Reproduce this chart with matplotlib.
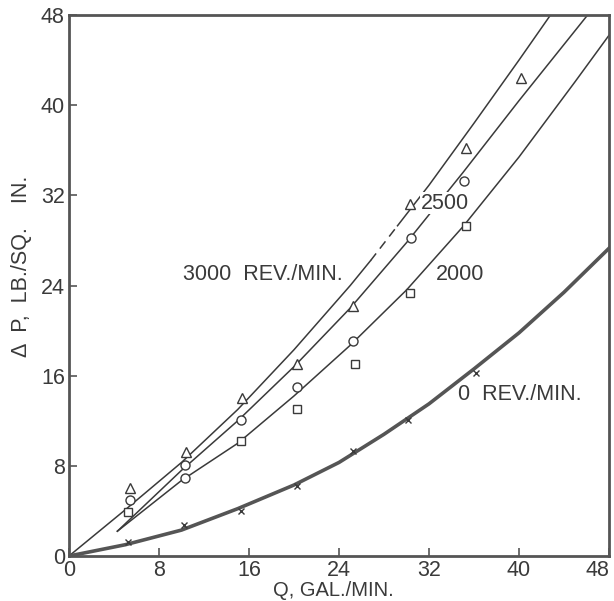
import matplotlib
matplotlib.use("Agg")
import matplotlib.pyplot as plt

# ---- data ----
# smooth curves (lines)
q_3000 = [0, 5, 10, 15, 20, 25, 26.8, 29.2, 32, 36, 40, 42.8]
p_3000 = [0, 4.1, 8.3, 13.0, 18.3, 24.0, 26.2, 29.3, 32.9, 38.4, 44.0, 48]

q_2500 = [4.3, 10, 15, 20, 25, 30, 35, 40, 46.1]
p_2500 = [2.2, 7.6, 12.0, 16.8, 22.0, 27.8, 34.0, 40.4, 48]

q_2000 = [4.3, 10, 15, 20, 25, 30, 35, 40, 45, 48]
p_2000 = [2.2, 6.7, 10.0, 14.2, 18.7, 23.6, 29.2, 35.4, 42.1, 46.2]

q_0 = [0, 5, 10, 15, 20, 24, 28, 32, 36, 40, 44, 48]
p_0 = [0, 1.0, 2.3, 4.2, 6.3, 8.3, 10.8, 13.5, 16.6, 19.8, 23.4, 27.3]

# measured points
tri_q = [5.4, 10.4, 15.4, 20.3, 25.2, 30.3, 35.3, 40.2]
tri_p = [6.0, 9.2, 14.0, 17.0, 22.2, 31.2, 36.2, 42.4]

circ_q = [5.4, 10.3, 10.3, 15.3, 20.3, 25.2, 30.4, 35.1]
circ_p = [5.0, 8.1, 6.9, 12.1, 15.0, 19.05, 28.2, 33.3]

sq_q = [5.2, 15.3, 20.3, 25.4, 30.3, 35.3]
sq_p = [3.9, 10.2, 13.0, 17.0, 23.35, 29.3]

x_q = [5.2, 10.25, 15.3, 20.3, 25.2, 30.1, 36.2]
x_p = [1.2, 2.75, 3.95, 6.2, 9.3, 12.1, 16.2]

ticks = [0, 8, 16, 24, 32, 40, 48]

# ---- drawing ----
plt.rcParams['font.family'] = ['Liberation Sans', 'DejaVu Sans']
ink = '#3a3a3a'
fig = plt.figure(figsize=(6.14, 6.01), dpi=100)
ax = fig.add_axes([69/614, 45/601, 540/614, 541/601])

lw = 1.1
# 3000 curve with a broken (dashed) stretch
ax.plot(q_3000[:7], p_3000[:7], color=ink, lw=lw, zorder=2)
ax.plot(q_3000[6:8], p_3000[6:8], color=ink, lw=lw, ls=(0, (6, 4)), zorder=2)
ax.plot(q_3000[7:], p_3000[7:], color=ink, lw=lw, zorder=2)
ax.plot(q_2500, p_2500, color=ink, lw=lw, zorder=2)
ax.plot(q_2000, p_2000, color=ink, lw=lw, zorder=2)
ax.plot(q_0, p_0, color='#555555', lw=2.6, zorder=2)

mk = dict(ls='none', mfc='white', mec=ink, mew=1.0, zorder=3)
ax.plot(tri_q, tri_p, marker='^', ms=7, **mk)
ax.plot(circ_q, circ_p, marker='o', ms=6.5, **mk)
ax.plot(sq_q, sq_p, marker='s', ms=5.5, **mk)
ax.plot(x_q, x_p, ls='none', marker='x', ms=5, mec=ink, mew=1.0, zorder=3)

fs = 15.5
ax.text(10.1, 25.0, "3000  REV./MIN.", fontsize=fs, color=ink, ha='left', va='center')
ax.text(31.3, 31.3, "2500", fontsize=fs, color=ink, ha='left', va='center',
        bbox=dict(facecolor='white', edgecolor='none', pad=0.5), zorder=4)
ax.text(32.6, 25.0, "2000", fontsize=fs, color=ink, ha='left', va='center')
ax.text(34.6, 14.3, "0  REV./MIN.", fontsize=fs, color=ink, ha='left', va='center')

ax.set_xlim(0, 48)
ax.set_ylim(0, 48)
ax.set_xticks(ticks)
ax.set_yticks(ticks)
ax.tick_params(direction='in', length=6, width=1.2, colors='#555555',
               labelcolor=ink, labelsize=15.5, pad=3)
ax.get_xticklabels()[-1].set_horizontalalignment('right')
for s in ax.spines.values():
    s.set_color('#555555')
    s.set_linewidth(2.0)

ax.set_xlabel("Q, GAL./MIN.", fontsize=14.5, color=ink)
ax.set_ylabel("Δ  P,  LB./SQ.    IN.", fontsize=fs, color=ink)
ax.xaxis.set_label_coords(0.49, -0.047)
ax.yaxis.set_label_coords(-0.068, 0.535)

fig.savefig("out.png", dpi=100)
